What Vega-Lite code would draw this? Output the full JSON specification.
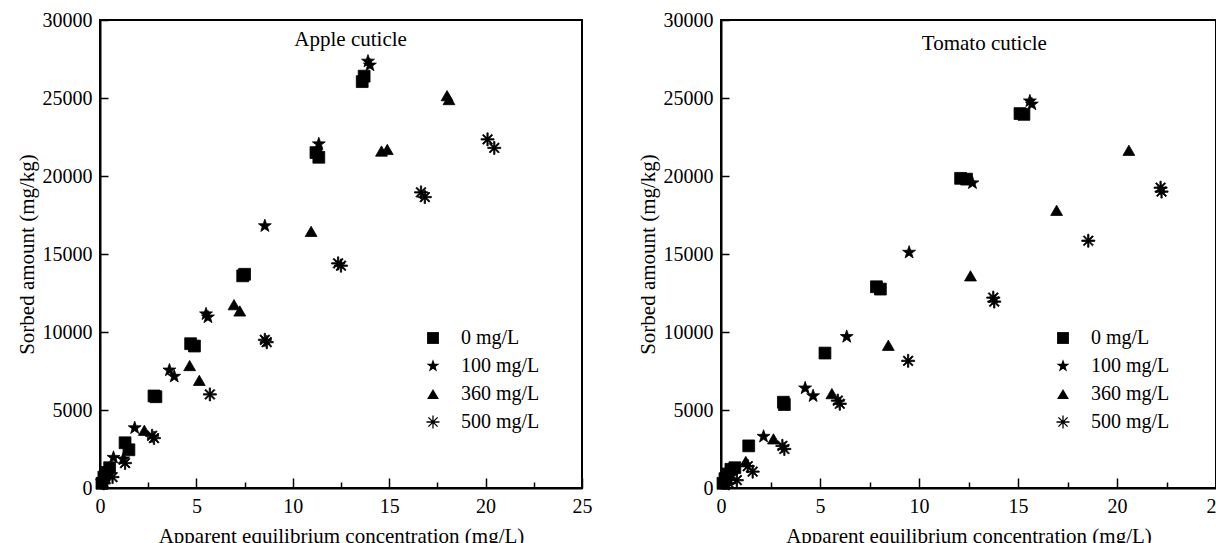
{
  "$schema": "https://vega.github.io/schema/vega-lite/v6.json",
  "background": "white",
  "padding": {"left": 15, "top": 9, "right": 0, "bottom": 0},
  "spacing": 43,
  "config": {
    "font": "Liberation Serif, Times New Roman, serif",
    "view": {"stroke": "black", "strokeWidth": 2},
    "text": {"font": "Liberation Serif, Times New Roman, serif"},
    "axis": {
      "grid": false,
      "domainColor": "black",
      "domainWidth": 2,
      "tickColor": "black",
      "tickWidth": 1.5,
      "tickSize": -8,
      "labelFont": "Liberation Serif, Times New Roman, serif",
      "labelFontSize": 20,
      "labelColor": "black",
      "labelPadding": 16,
      "labelFlush": false,
      "labelOverlap": false,
      "titleFont": "Liberation Serif, Times New Roman, serif",
      "titleFontSize": 21,
      "titleFontWeight": "normal",
      "titleColor": "black"
    },
    "axisX": {"titlePadding": 5, "labelPadding": 18},
    "axisY": {"titlePadding": 5},
    "legend": {
      "title": null,
      "labelFont": "Liberation Serif, Times New Roman, serif",
      "labelFontSize": 20,
      "labelColor": "black",
      "symbolSize": 140,
      "symbolFillColor": "black",
      "symbolStrokeColor": "black",
      "symbolStrokeWidth": 0.8,
      "symbolOpacity": 1,
      "rowPadding": 8,
      "labelOffset": 18
    }
  },
  "datasets": {
    "apple": [
      {"conc": "0 mg/L", "x": 0.1, "y": 300},
      {"conc": "0 mg/L", "x": 0.2, "y": 700},
      {"conc": "0 mg/L", "x": 0.35, "y": 1000},
      {"conc": "0 mg/L", "x": 0.5, "y": 1300},
      {"conc": "0 mg/L", "x": 1.3, "y": 2900},
      {"conc": "0 mg/L", "x": 1.5, "y": 2450},
      {"conc": "0 mg/L", "x": 2.8, "y": 5900},
      {"conc": "0 mg/L", "x": 2.9, "y": 5850},
      {"conc": "0 mg/L", "x": 4.7, "y": 9250},
      {"conc": "0 mg/L", "x": 4.9, "y": 9100},
      {"conc": "0 mg/L", "x": 7.4, "y": 13600},
      {"conc": "0 mg/L", "x": 7.5, "y": 13700},
      {"conc": "0 mg/L", "x": 11.2, "y": 21500},
      {"conc": "0 mg/L", "x": 11.35, "y": 21200},
      {"conc": "0 mg/L", "x": 13.6, "y": 26050},
      {"conc": "0 mg/L", "x": 13.7, "y": 26400},
      {"conc": "100 mg/L", "x": 0.1, "y": 400},
      {"conc": "100 mg/L", "x": 0.3, "y": 1000},
      {"conc": "100 mg/L", "x": 0.7, "y": 1950},
      {"conc": "100 mg/L", "x": 1.2, "y": 1850},
      {"conc": "100 mg/L", "x": 1.8, "y": 3850},
      {"conc": "100 mg/L", "x": 3.6, "y": 7550},
      {"conc": "100 mg/L", "x": 3.85, "y": 7150},
      {"conc": "100 mg/L", "x": 5.5, "y": 11150},
      {"conc": "100 mg/L", "x": 5.6, "y": 10950},
      {"conc": "100 mg/L", "x": 8.55, "y": 16800},
      {"conc": "100 mg/L", "x": 11.35, "y": 22050},
      {"conc": "100 mg/L", "x": 13.9, "y": 27350},
      {"conc": "100 mg/L", "x": 14.0, "y": 27100},
      {"conc": "360 mg/L", "x": 0.15, "y": 600},
      {"conc": "360 mg/L", "x": 0.35, "y": 1300},
      {"conc": "360 mg/L", "x": 2.3, "y": 3700},
      {"conc": "360 mg/L", "x": 4.65, "y": 7850},
      {"conc": "360 mg/L", "x": 5.15, "y": 6900},
      {"conc": "360 mg/L", "x": 6.95, "y": 11750},
      {"conc": "360 mg/L", "x": 7.25, "y": 11350},
      {"conc": "360 mg/L", "x": 10.95, "y": 16450},
      {"conc": "360 mg/L", "x": 14.6, "y": 21600},
      {"conc": "360 mg/L", "x": 14.9, "y": 21700},
      {"conc": "360 mg/L", "x": 18.0, "y": 25150},
      {"conc": "360 mg/L", "x": 18.1, "y": 24900},
      {"conc": "500 mg/L", "x": 0.2, "y": 300},
      {"conc": "500 mg/L", "x": 0.65, "y": 700},
      {"conc": "500 mg/L", "x": 1.3, "y": 1600},
      {"conc": "500 mg/L", "x": 2.7, "y": 3350},
      {"conc": "500 mg/L", "x": 2.8, "y": 3200},
      {"conc": "500 mg/L", "x": 5.7, "y": 6000},
      {"conc": "500 mg/L", "x": 8.55, "y": 9500},
      {"conc": "500 mg/L", "x": 8.65, "y": 9350},
      {"conc": "500 mg/L", "x": 12.35, "y": 14400},
      {"conc": "500 mg/L", "x": 12.5, "y": 14250},
      {"conc": "500 mg/L", "x": 16.65, "y": 18950},
      {"conc": "500 mg/L", "x": 16.85, "y": 18650},
      {"conc": "500 mg/L", "x": 20.1, "y": 22350},
      {"conc": "500 mg/L", "x": 20.45, "y": 21800}
    ],
    "tomato": [
      {"conc": "0 mg/L", "x": 0.1, "y": 300},
      {"conc": "0 mg/L", "x": 0.2, "y": 600},
      {"conc": "0 mg/L", "x": 0.35, "y": 900},
      {"conc": "0 mg/L", "x": 0.5, "y": 1200},
      {"conc": "0 mg/L", "x": 0.7, "y": 1300},
      {"conc": "0 mg/L", "x": 1.4, "y": 2700},
      {"conc": "0 mg/L", "x": 3.15, "y": 5500},
      {"conc": "0 mg/L", "x": 3.2, "y": 5350},
      {"conc": "0 mg/L", "x": 5.25, "y": 8650},
      {"conc": "0 mg/L", "x": 7.85, "y": 12900},
      {"conc": "0 mg/L", "x": 8.05, "y": 12750},
      {"conc": "0 mg/L", "x": 12.1, "y": 19850},
      {"conc": "0 mg/L", "x": 12.4, "y": 19800},
      {"conc": "0 mg/L", "x": 15.1, "y": 24000},
      {"conc": "0 mg/L", "x": 15.3, "y": 23950},
      {"conc": "100 mg/L", "x": 0.2, "y": 400},
      {"conc": "100 mg/L", "x": 0.5, "y": 800},
      {"conc": "100 mg/L", "x": 2.15, "y": 3300},
      {"conc": "100 mg/L", "x": 4.25, "y": 6400},
      {"conc": "100 mg/L", "x": 4.65, "y": 5900},
      {"conc": "100 mg/L", "x": 6.35, "y": 9700},
      {"conc": "100 mg/L", "x": 9.5, "y": 15100},
      {"conc": "100 mg/L", "x": 12.7, "y": 19550},
      {"conc": "100 mg/L", "x": 15.6, "y": 24800},
      {"conc": "100 mg/L", "x": 15.7, "y": 24600},
      {"conc": "360 mg/L", "x": 0.3, "y": 600},
      {"conc": "360 mg/L", "x": 1.25, "y": 1700},
      {"conc": "360 mg/L", "x": 2.65, "y": 3150},
      {"conc": "360 mg/L", "x": 5.6, "y": 6050},
      {"conc": "360 mg/L", "x": 8.45, "y": 9150},
      {"conc": "360 mg/L", "x": 12.6, "y": 13600},
      {"conc": "360 mg/L", "x": 16.95, "y": 17800},
      {"conc": "360 mg/L", "x": 20.6, "y": 21650},
      {"conc": "500 mg/L", "x": 0.4, "y": 300},
      {"conc": "500 mg/L", "x": 0.8, "y": 500},
      {"conc": "500 mg/L", "x": 1.35, "y": 1400},
      {"conc": "500 mg/L", "x": 1.6, "y": 1050},
      {"conc": "500 mg/L", "x": 3.1, "y": 2700},
      {"conc": "500 mg/L", "x": 3.2, "y": 2500},
      {"conc": "500 mg/L", "x": 5.9, "y": 5600},
      {"conc": "500 mg/L", "x": 6.0, "y": 5400},
      {"conc": "500 mg/L", "x": 9.45, "y": 8150},
      {"conc": "500 mg/L", "x": 13.75, "y": 12200},
      {"conc": "500 mg/L", "x": 13.8, "y": 11950},
      {"conc": "500 mg/L", "x": 18.55, "y": 15850},
      {"conc": "500 mg/L", "x": 22.2, "y": 19250},
      {"conc": "500 mg/L", "x": 22.25, "y": 19000}
    ]
  },
  "hconcat": [
    {
      "width": 482,
      "height": 468,
      "layer": [
        {
          "data": {"name": "apple"},
          "mark": {"type": "point", "filled": true, "fill": "black", "stroke": "black", "strokeWidth": 0.8, "size": 140, "opacity": 1},
          "encoding": {
            "x": {
              "field": "x", "type": "quantitative",
              "scale": {"domain": [0, 25], "nice": false, "zero": false},
              "axis": {"title": "Apparent equilibrium concentration (mg/L)", "values": [0, 2.5, 5, 7.5, 10, 12.5, 15, 17.5, 20, 22.5, 25], "labelExpr": "datum.value % 5 === 0 ? datum.label : ''", "tickSize": {"condition": {"test": "datum.value % 5 === 0", "value": -10}, "value": -6}}
            },
            "y": {
              "field": "y", "type": "quantitative",
              "scale": {"domain": [0, 30000], "nice": false, "zero": false},
              "axis": {"title": "Sorbed amount (mg/kg)", "format": "d", "values": [0, 2500, 5000, 7500, 10000, 12500, 15000, 17500, 20000, 22500, 25000, 27500, 30000], "labelExpr": "datum.value % 5000 === 0 ? datum.label : ''"}
            },
            "shape": {
              "field": "conc", "type": "nominal",
              "scale": {
                "domain": ["0 mg/L", "100 mg/L", "360 mg/L", "500 mg/L"],
                "range": ["square", "M0,-1.15L0.27,-0.37L1.09,-0.36L0.44,0.14L0.68,0.93L0,0.46L-0.68,0.93L-0.44,0.14L-1.09,-0.36L-0.27,-0.37Z", "triangle-up", "M-1.1,-0.11L1.1,-0.11L1.1,0.11L-1.1,0.11ZM-0.11,-1.1L0.11,-1.1L0.11,1.1L-0.11,1.1ZM-0.7,-0.86L0.86,0.7L0.7,0.86L-0.86,-0.7ZM-0.86,0.7L0.7,-0.86L0.86,-0.7L-0.7,0.86Z"]
              },
              "legend": {
                "orient": "none", "legendX": 323, "legendY": 308
              }
            }
          }
        },
        {
          "data": {"values": [{}]},
          "mark": {"type": "text", "font": "Liberation Serif, Times New Roman, serif", "fontSize": 21, "color": "black", "align": "center", "baseline": "middle"},
          "encoding": {
            "x": {"datum": 13.0, "type": "quantitative"},
            "y": {"datum": 28700, "type": "quantitative"},
            "text": {"value": "Apple cuticle"}
          }
        }
      ]
    },
    {
      "width": 495,
      "height": 468,
      "layer": [
        {
          "data": {"name": "tomato"},
          "mark": {"type": "point", "filled": true, "fill": "black", "stroke": "black", "strokeWidth": 0.8, "size": 140, "opacity": 1},
          "encoding": {
            "x": {
              "field": "x", "type": "quantitative",
              "scale": {"domain": [0, 25], "nice": false, "zero": false},
              "axis": {"title": "Apparent equilibrium concentration (mg/L)", "values": [0, 2.5, 5, 7.5, 10, 12.5, 15, 17.5, 20, 22.5, 25], "labelExpr": "datum.value % 5 === 0 ? datum.label : ''", "tickSize": {"condition": {"test": "datum.value % 5 === 0", "value": -10}, "value": -6}}
            },
            "y": {
              "field": "y", "type": "quantitative",
              "scale": {"domain": [0, 30000], "nice": false, "zero": false},
              "axis": {"title": "Sorbed amount (mg/kg)", "format": "d", "values": [0, 2500, 5000, 7500, 10000, 12500, 15000, 17500, 20000, 22500, 25000, 27500, 30000], "labelExpr": "datum.value % 5000 === 0 ? datum.label : ''"}
            },
            "shape": {
              "field": "conc", "type": "nominal",
              "scale": {
                "domain": ["0 mg/L", "100 mg/L", "360 mg/L", "500 mg/L"],
                "range": ["square", "M0,-1.15L0.27,-0.37L1.09,-0.36L0.44,0.14L0.68,0.93L0,0.46L-0.68,0.93L-0.44,0.14L-1.09,-0.36L-0.27,-0.37Z", "triangle-up", "M-1.1,-0.11L1.1,-0.11L1.1,0.11L-1.1,0.11ZM-0.11,-1.1L0.11,-1.1L0.11,1.1L-0.11,1.1ZM-0.7,-0.86L0.86,0.7L0.7,0.86L-0.86,-0.7ZM-0.86,0.7L0.7,-0.86L0.86,-0.7L-0.7,0.86Z"]
              },
              "legend": {
                "orient": "none", "legendX": 332, "legendY": 308
              }
            }
          }
        },
        {
          "data": {"values": [{}]},
          "mark": {"type": "text", "font": "Liberation Serif, Times New Roman, serif", "fontSize": 21, "color": "black", "align": "center", "baseline": "middle"},
          "encoding": {
            "x": {"datum": 13.3, "type": "quantitative"},
            "y": {"datum": 28460, "type": "quantitative"},
            "text": {"value": "Tomato cuticle"}
          }
        }
      ]
    }
  ],
  "resolve": {"scale": {"x": "independent", "y": "independent"}, "legend": {"shape": "independent"}}
}
